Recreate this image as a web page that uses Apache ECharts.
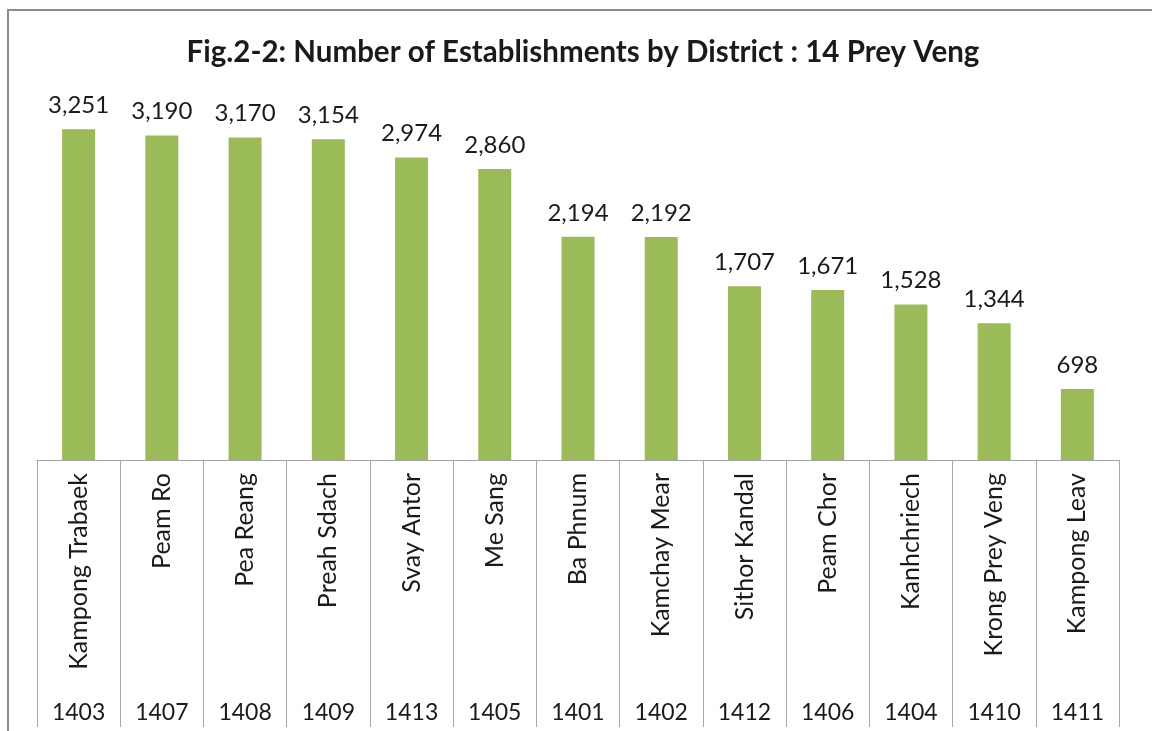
<!DOCTYPE html>
<html>
<head>
<meta charset="utf-8">
<script src="https://cdn.jsdelivr.net/npm/echarts@6/dist/echarts.min.js"></script>
<style>
html, body { margin: 0; padding: 0; background: #fff; }
#chart { width: 1152px; height: 731px; }
</style>
</head>
<body>
<div id="chart"></div>
<script>
// districts, in the order shown (sorted by count)
var districtNames = ['Kampong Trabaek', 'Peam Ro', 'Pea Reang', 'Preah Sdach', 'Svay Antor', 'Me Sang',
	'Ba Phnum', 'Kamchay Mear', 'Sithor Kandal', 'Peam Chor', 'Kanhchriech', 'Krong Prey Veng', 'Kampong Leav'];
var districtCodes = ['1403', '1407', '1408', '1409', '1413', '1405', '1401', '1402', '1412', '1406', '1404', '1410', '1411'];
var establishments = [3251, 3190, 3170, 3154, 2974, 2860, 2194, 2192, 1707, 1671, 1528, 1344, 698];

var chartFont = 'Lato';
var myChart = echarts.init(document.getElementById('chart'));

var option = {
	animation: false,
	graphic: [{
		// outer chart border (right and bottom run off the picture)
		type: 'rect',
		shape: { x: 8, y: 10, width: 1170, height: 760 },
		style: { fill: 'none', stroke: '#8c8c8c', lineWidth: 2 }
	}, {
		type: 'text',
		x: 583,
		y: 52,
		style: {
			text: 'Fig.2-2: Number of Establishments by District : 14 Prey Veng',
			align: 'center',
			verticalAlign: 'middle',
			fontFamily: chartFont,
			fontWeight: 'bold',
			fontSize: 29.5,
			fill: '#1a1a1a'
		}
	}],
	grid: { left: 37, right: 33, top: 104, bottom: 271 },
	xAxis: [
		{
			type: 'category',
			data: districtNames,
			axisLine: { lineStyle: { color: '#a6a6a6', width: 1 } },
			axisTick: { show: true, interval: 0, length: 267, lineStyle: { color: '#a6a6a6' } },
			axisLabel: { interval: 0, rotate: 90, margin: 13, fontFamily: chartFont, fontSize: 25, color: '#1a1a1a' }
		},
		{
			type: 'category',
			position: 'bottom',
			data: districtCodes,
			axisLine: { show: false },
			axisTick: { show: false },
			axisLabel: { interval: 0, margin: 241, fontFamily: chartFont, fontSize: 23, color: '#1a1a1a' }
		}
	],
	yAxis: { type: 'value', min: 0, max: 3500, show: false, splitLine: { show: false } },
	series: [{
		type: 'bar',
		data: establishments,
		barWidth: 33,
		itemStyle: { color: '#9bbb59' },
		label: {
			show: true,
			position: 'top',
			distance: 12,
			fontFamily: chartFont,
			fontSize: 24,
			color: '#1a1a1a',
			formatter: function (p) { return p.value.toLocaleString('en-US'); }
		}
	}]
};
myChart.setOption(option);
</script>
</body>
</html>
